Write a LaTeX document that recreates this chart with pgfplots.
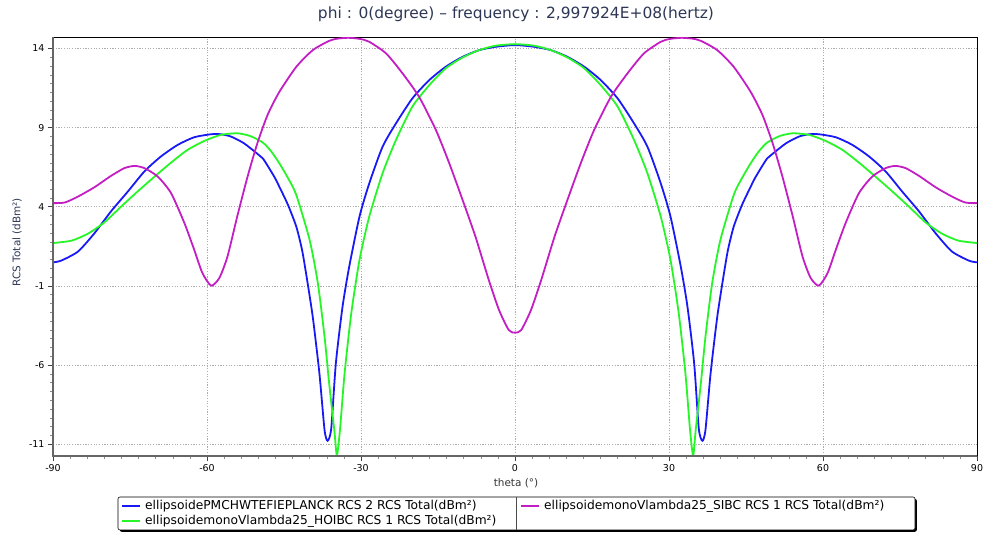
\documentclass[border=0pt]{standalone}
\usepackage{fontspec}
\setmainfont{DejaVu Sans}
\usepackage{pgfplots}
\pgfplotsset{compat=1.18}
\usetikzlibrary{shadows}
\definecolor{cBlue}{RGB}{25,25,245}
\definecolor{cGreen}{RGB}{40,245,40}
\definecolor{cMag}{RGB}{195,30,195}
\definecolor{titlec}{RGB}{45,55,85}
\newcommand{\legfont}{\fontsize{12.3}{14}\selectfont}

\begin{document}
\begin{tikzpicture}
\useasboundingbox (0,0) rectangle (985bp,535bp);
\begin{axis}[
    name=ax, at={(53bp,79.3bp)}, anchor=south west, scale only axis,
    width=924bp, height=418.2bp,
    xmin=-90, xmax=90, ymin=-11.72, ymax=14.69,
    xtick={-90,-60,...,90}, ytick={-11,-6,...,14},
    minor x tick num=8, minor y tick num=8,
    tick align=outside, xtick pos=left, ytick pos=left,
    major tick length=5bp, minor tick length=3bp,
    tick style={black!75, line width=0.6bp},
    minor tick style={black!45, line width=0.5bp},
    grid=major,
    major grid style={black!32, dash pattern=on 1.2bp off 1.5bp, line width=0.6bp},
    axis line style={black, line width=0.8bp},
    tick label style={font=\fontsize{9.5}{11}\selectfont},
    /pgf/number format/assume math mode=true,
    every axis plot/.append style={line width=1.8bp, smooth, tension=0.4},
]
% ellipsoidePMCHWTEFIEPLANCK RCS 2
\addplot[cBlue] coordinates {
(-90,0.49) (-88.4,0.6) (-85.1,1.18) (-81.9,2.34) (-78.7,3.71) (-75.4,4.97)
(-72.2,6.23) (-69.0,7.17) (-65.7,7.91) (-62.5,8.39) (-59.2,8.58) (-57.3,8.58)
(-55.3,8.43) (-52.8,8.01) (-50.2,7.35) (-49.1,7.05) (-46.9,5.9) (-45.9,5.26)
(-44.2,4.1) (-42.6,2.74) (-41.5,1.3) (-40.7,-0.21) (-39.4,-2.95) (-38.1,-6.53)
(-37.1,-10.1) (-36.5,-10.78) (-35.8,-10.0) (-34.9,-5.89) (-33.6,-2.32) (-32.3,0.21)
(-30.3,3.37) (-28.4,5.47) (-25.8,7.79) (-23.2,9.26) (-20,10.84) (-16.7,12.0)
(-13.5,12.84) (-10.2,13.47) (-7,13.89) (-3.8,14.1) (0,14.21)
(3.8,14.1) (7,13.89) (10.2,13.47) (13.5,12.84) (16.7,12.0) (20,10.84)
(23.2,9.26) (25.8,7.79) (28.4,5.47) (30.3,3.37) (32.3,0.21) (33.6,-2.32)
(34.9,-5.89) (35.8,-10.0) (36.5,-10.78) (37.1,-10.1) (38.1,-6.53) (39.4,-2.95)
(40.7,-0.21) (41.5,1.3) (42.6,2.74) (44.2,4.1) (45.9,5.26) (46.9,5.9)
(49.1,7.05) (50.2,7.35) (52.8,8.01) (55.3,8.43) (57.3,8.58) (59.2,8.58)
(62.5,8.39) (65.7,7.91) (69.0,7.17) (72.2,6.23) (75.4,4.97) (78.7,3.71)
(81.9,2.34) (85.1,1.18) (88.4,0.6) (90,0.49)
};
% ellipsoidemonoVlambda25_HOIBC RCS 1
\addplot[cGreen] coordinates {
(-90,1.71) (-86.4,1.86) (-83.2,2.30) (-80,3.01) (-76.7,4.02) (-73.5,4.97)
(-70.2,5.91) (-67,6.79) (-63.8,7.59) (-60.5,8.16) (-57.3,8.54) (-54.1,8.64)
(-51.6,8.47) (-49.1,8.05) (-47.5,7.5) (-45.9,6.74) (-44.2,5.8) (-42.6,4.74)
(-40,1.89) (-38.4,-0.84) (-37.1,-4.21) (-36.2,-7.16) (-35.2,-10.1) (-34.7,-11.7)
(-34.1,-10.1) (-33.2,-6.53) (-31.9,-2.74) (-30.3,0.63) (-28.4,3.37) (-25.8,6.11)
(-23.2,8.21) (-20,10.32) (-16.7,11.68) (-13.5,12.74) (-10.2,13.43) (-7,13.89)
(-3.8,14.17) (0,14.27)
(3.8,14.17) (7,13.89) (10.2,13.43) (13.5,12.74) (16.7,11.68) (20,10.32)
(23.2,8.21) (25.8,6.11) (28.4,3.37) (30.3,0.63) (31.9,-2.74) (33.2,-6.53)
(34.1,-10.1) (34.7,-11.7) (35.2,-10.1) (36.2,-7.16) (37.1,-4.21) (38.4,-0.84)
(40,1.89) (42.6,4.74) (44.2,5.8) (45.9,6.74) (47.5,7.5) (49.1,8.05)
(51.6,8.47) (54.1,8.64) (57.3,8.54) (60.5,8.16) (63.8,7.59) (67,6.79)
(70.2,5.91) (73.5,4.97) (76.7,4.02) (80,3.01) (83.2,2.30) (86.4,1.86) (90,1.71)
};
% ellipsoidemonoVlambda25_SIBC RCS 1
\addplot[cMag] coordinates {
(-90,4.23) (-87.7,4.27) (-85.1,4.65) (-81.9,5.24) (-78.7,5.95) (-76.1,6.44)
(-74.1,6.58) (-72.2,6.44) (-69.6,5.91) (-67,4.86) (-64.4,2.97) (-62.5,1.29)
(-60.9,-0.18) (-59.2,-0.98) (-57.6,-0.5) (-56,0.87) (-54.1,3.4) (-52.1,5.9)
(-50.2,8.0) (-48.2,9.8) (-45.9,11.26) (-42.6,12.84) (-39.4,13.89) (-36.2,14.48)
(-34.5,14.62) (-32.4,14.67) (-30.2,14.6) (-28.4,14.42) (-25.1,13.68) (-21.9,12.42)
(-18.7,10.95) (-15.4,8.84) (-12.8,6.74) (-10.2,4.42) (-7.7,2.11) (-5.1,-0.63)
(-3.1,-2.53) (-1.2,-3.79) (0,-3.95)
(1.2,-3.79) (3.1,-2.53) (5.1,-0.63) (7.7,2.11) (10.2,4.42) (12.8,6.74)
(15.4,8.84) (18.7,10.95) (21.9,12.42) (25.1,13.68) (28.4,14.42) (30.2,14.6)
(32.4,14.67) (34.5,14.62) (36.2,14.48) (39.4,13.89) (42.6,12.84) (45.9,11.26)
(48.2,9.8) (50.2,8.0) (52.1,5.9) (54.1,3.4) (56,0.87) (57.6,-0.5)
(59.2,-0.98) (60.9,-0.18) (62.5,1.29) (64.4,2.97) (67,4.86) (69.6,5.91)
(72.2,6.44) (74.1,6.58) (76.1,6.44) (78.7,5.95) (81.9,5.24) (85.1,4.65)
(87.7,4.27) (90,4.23)
};
\end{axis}
\draw[line width=2bp, black!60] (ax.north west) -- (ax.south west) -- (ax.south east);

\node[font=\fontsize{15.5}{18}\selectfont, text=titlec] at (516bp,521bp)
  {phi : 0(degree) – frequency : 2,997924E+08(hertz)};
\node[rotate=90, font=\fontsize{10.5}{12}\selectfont, text=titlec] at (17bp,293bp)
  {RCS Total (dBm²)};
\node[font=\fontsize{10.5}{12}\selectfont, text=black!80] at (516bp,52bp) {theta (°)};

% legend
\filldraw[fill=white, draw=black, line width=0.6bp, rounded corners=2bp,
  drop shadow={shadow xshift=1.8bp, shadow yshift=-1.8bp, opacity=1, fill=black}]
  (118bp,5bp) rectangle (915bp,38bp);
\draw[black!70, line width=0.6bp] (516bp,5bp) -- (516bp,38bp);
\draw[cBlue, line width=1.8bp] (122bp,29bp) -- (140bp,29bp);
\node[anchor=west, inner sep=0pt, font=\legfont] at (145bp,29bp)
  {ellipsoidePMCHWTEFIEPLANCK RCS 2 RCS Total(dBm²)};
\draw[cGreen, line width=1.8bp] (122bp,14bp) -- (140bp,14bp);
\node[anchor=west, inner sep=0pt, font=\legfont] at (145bp,14bp)
  {ellipsoidemonoVlambda25\_HOIBC RCS 1 RCS Total(dBm²)};
\draw[cMag, line width=1.8bp] (521bp,29bp) -- (539bp,29bp);
\node[anchor=west, inner sep=0pt, font=\legfont] at (544bp,29bp)
  {ellipsoidemonoVlambda25\_SIBC RCS 1 RCS Total(dBm²)};
\end{tikzpicture}
\end{document}
